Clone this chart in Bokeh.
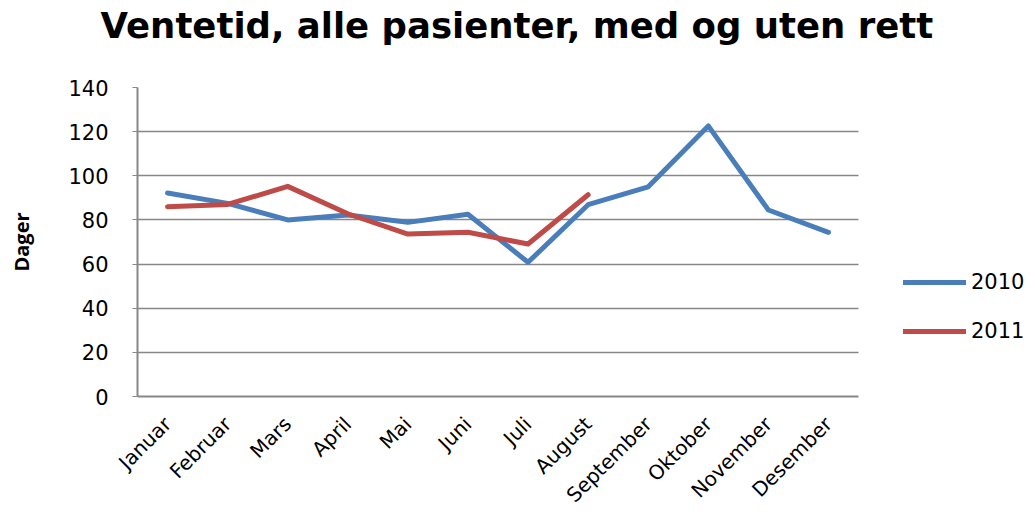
from bokeh.plotting import figure
from bokeh.models import Legend, LegendItem, Range1d, ColumnDataSource, FixedTicker
from bokeh.embed import file_html
from bokeh.resources import INLINE

months = ["Januar", "Februar", "Mars", "April", "Mai", "Juni", "Juli", "August",
          "September", "Oktober", "November", "Desember"]
v2010 = [92.2, 87.5, 80.0, 82.2, 78.9, 82.6, 60.8, 86.9, 95.0, 122.6, 84.5, 74.4]
v2011 = [86.0, 87.0, 95.2, 82.8, 73.6, 74.4, 69.1, 91.4]
series_names = ["2010", "2011"]
series_colors = ["#4a7ebb", "#be4b48"]
y_ticks = [0, 20, 40, 60, 80, 100, 120, 140]

idx = list(range(len(months)))

# frame spans to the right edge so the legend can sit inside it; 12 categories take 721px
p = figure(x_range=Range1d(-0.5, -0.5 + 12 * 890 / 721), y_range=Range1d(0, 140),
           frame_width=890, frame_height=309, output_backend="svg", toolbar_location=None,
           min_border_left=137, min_border_right=0, min_border_top=87, min_border_bottom=0,
           title="Ventetid, alle pasienter, med og uten rett")

p.title.text_font = "DejaVu Sans"
p.title.text_font_size = "35.5px"
p.title.text_font_style = "bold"
p.title.align = "left"
p.title.offset = -37
p.title.standoff = 0
p.title.padding = dict(left=0, right=0, top=0, bottom=42)
p.title.text_color = "#000000"

src1 = ColumnDataSource(dict(x=idx, y=v2010))
src2 = ColumnDataSource(dict(x=idx[:len(v2011)], y=v2011))
r1 = p.line("x", "y", source=src1, line_color=series_colors[0], line_width=5,
            line_join="round", line_cap="round")
r2 = p.line("x", "y", source=src2, line_color=series_colors[1], line_width=5,
            line_join="round", line_cap="round")

p.outline_line_color = None
p.background_fill_color = "#ffffff"
p.xgrid.grid_line_color = None
p.ygrid.grid_line_color = "#878787"
p.ygrid.grid_line_width = 1.5
p.ygrid.cross_bounds = (-0.5, 11.5)

p.yaxis.ticker = FixedTicker(ticks=y_ticks)
p.yaxis.axis_line_color = "#878787"
p.yaxis.axis_line_width = 2
p.yaxis.major_tick_line_color = "#878787"
p.yaxis.major_tick_out = 5
p.yaxis.major_tick_in = 0
p.yaxis.minor_tick_line_color = None
p.yaxis.major_label_text_font = "DejaVu Sans"
p.yaxis.major_label_text_font_size = "21px"
p.yaxis.major_label_text_color = "#000000"
p.yaxis.major_label_standoff = 24
p.yaxis.axis_label = "Dager"
p.yaxis.axis_label_text_font = "Open Sans"
p.yaxis.axis_label_text_font_size = "20px"
p.yaxis.axis_label_text_font_style = "bold"
p.yaxis.axis_label_text_color = "#000000"
p.yaxis.axis_label_standoff = 30

p.xaxis.ticker = FixedTicker(ticks=idx)
p.xaxis.major_label_overrides = {i: m for i, m in zip(idx, months)}
p.xaxis.bounds = (-0.5, 11.5)
p.xaxis.axis_line_color = "#878787"
p.xaxis.axis_line_width = 2
p.xaxis.major_tick_out = 0
p.xaxis.major_tick_in = 0
p.xaxis.minor_tick_line_color = None
p.xaxis.major_label_orientation = 0.785
p.xaxis.major_label_text_font = "DejaVu Sans"
p.xaxis.major_label_text_font_size = "20px"
p.xaxis.major_label_text_color = "#000000"
p.xaxis.major_label_standoff = 24

legend = Legend(items=[LegendItem(label=series_names[0], renderers=[r1]),
                       LegendItem(label=series_names[1], renderers=[r2])],
                location=(766, 53), margin=0, padding=0,
                glyph_width=63, glyph_height=24, label_height=24, spacing=25,
                label_standoff=5, label_text_font="DejaVu Sans", label_text_font_size="21px",
                label_text_color="#000000",
                border_line_color=None, background_fill_alpha=0)
p.add_layout(legend)

open("out.html", "w").write(file_html(p, INLINE))
